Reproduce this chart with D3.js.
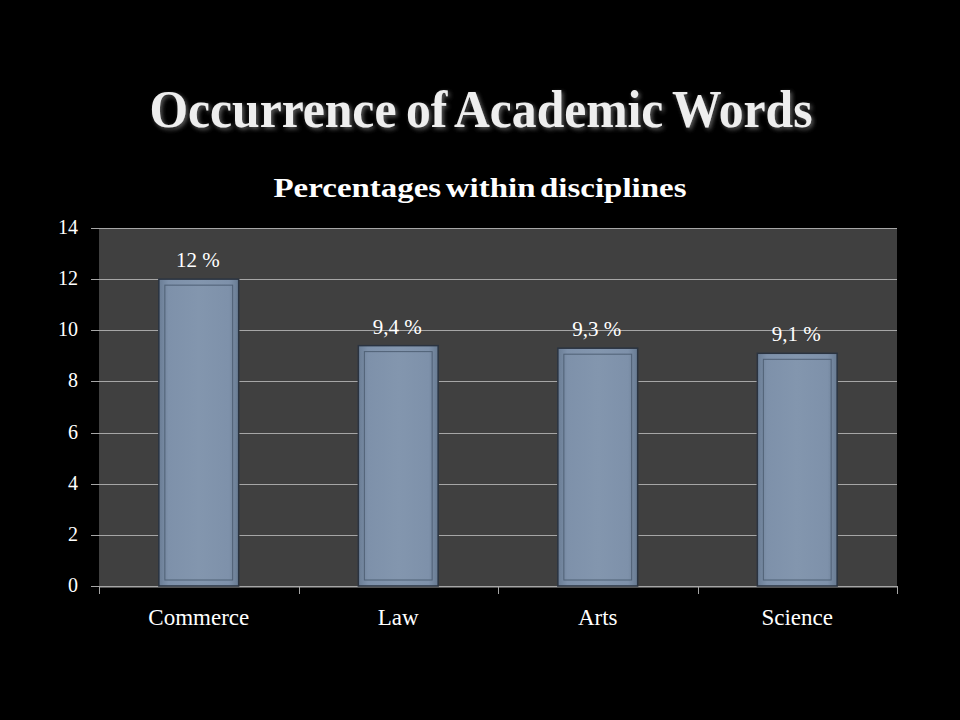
<!DOCTYPE html>
<html><head><meta charset="utf-8">
<script src="https://cdn.jsdelivr.net/npm/d3@7"></script>
<style>html,body{margin:0;padding:0;background:#000;}svg{display:block;}</style>
</head><body>
<svg id="chart" width="960" height="720"></svg>
<script>
const categories = ["Commerce", "Law", "Arts", "Science"];
const values = [12, 9.4, 9.3, 9.1];
const valueLabels = ["12 %", "9,4 %", "9,3 %", "9,1 %"];
const yTicks = [0, 2, 4, 6, 8, 10, 12, 14];

(function () {
const svg = d3.select("#chart");
const W = 960, H = 720;
svg.append("rect").attr("width", W).attr("height", H).attr("fill", "#000");

const defs = svg.append("defs");
const f = defs.append("filter").attr("id", "shadow").attr("x", "-10%").attr("y", "-20%").attr("width", "120%").attr("height", "150%");
f.append("feDropShadow").attr("dx", 2).attr("dy", 2).attr("stdDeviation", 2).attr("flood-color", "#666").attr("flood-opacity", 0.9);
const g1 = defs.append("linearGradient").attr("id", "barGrad").attr("x1", 0).attr("x2", 1).attr("y1", 0).attr("y2", 0);
g1.append("stop").attr("offset", "0%").attr("stop-color", "#6a7d95");
g1.append("stop").attr("offset", "12%").attr("stop-color", "#7e91aa");
g1.append("stop").attr("offset", "50%").attr("stop-color", "#8396ae");
g1.append("stop").attr("offset", "88%").attr("stop-color", "#7e91aa");
g1.append("stop").attr("offset", "100%").attr("stop-color", "#687b92");

// Title
svg.append("text").attr("x", 481).attr("y", 127).attr("text-anchor", "middle")
  .attr("font-family", "'Liberation Serif', serif").attr("font-weight", 700)
  .attr("font-size", 52).attr("fill", "#eeeeee").attr("filter", "url(#shadow)")
  .attr("word-spacing", -3)
  .attr("textLength", 663).attr("lengthAdjust", "spacingAndGlyphs")
  .text("Occurrence of Academic Words");

svg.append("text").attr("x", 480).attr("y", 197).attr("text-anchor", "middle")
  .attr("font-family", "'Liberation Serif', serif").attr("font-weight", 700)
  .attr("font-size", 27).attr("fill", "#ffffff").attr("word-spacing", -3)
  .attr("textLength", 413).attr("lengthAdjust", "spacingAndGlyphs")
  .text("Percentages within disciplines");

const pLeft = 99, pRight = 897, pTop = 228, pBottom = 586;
const x = d3.scaleBand().domain(categories).range([pLeft, pRight]).paddingInner(0.6).paddingOuter(0.3);
const y = d3.scaleLinear().domain([0, 14]).range([pBottom, pTop]);

svg.append("rect").attr("x", pLeft).attr("y", pTop).attr("width", pRight - pLeft).attr("height", pBottom - pTop).attr("fill", "#404040");

// gridlines
svg.append("g").selectAll("line").data(yTicks).join("line")
  .attr("x1", pLeft - 8).attr("x2", pRight).attr("y1", d => Math.round(y(d)) + 0.5).attr("y2", d => Math.round(y(d)) + 0.5)
  .attr("stroke", "#a6a6a6").attr("stroke-width", 1);

// y labels
svg.append("g").selectAll("text").data(yTicks).join("text")
  .attr("x", 78).attr("y", d => y(d) + 6).attr("text-anchor", "end")
  .attr("font-family", "'Liberation Serif', serif").attr("font-size", 20).attr("fill", "#fff")
  .text(d => d);

// x axis
const xAxis = d3.axisBottom(x).tickSize(0).tickFormat("");
const ax = svg.append("g").attr("transform", `translate(0,${Math.round(pBottom) + 0.5})`).call(xAxis);
ax.select(".domain").attr("stroke", "#a6a6a6");
const boundaries = d3.range(categories.length + 1).map(i => pLeft + i * (pRight - pLeft) / categories.length);
svg.append("g").selectAll("line").data(boundaries).join("line")
  .attr("x1", d => Math.round(d) + 0.5).attr("x2", d => Math.round(d) + 0.5).attr("y1", pBottom).attr("y2", pBottom + 8)
  .attr("stroke", "#a6a6a6");

svg.append("g").selectAll("text").data(categories).join("text")
  .attr("x", d => x(d) + x.bandwidth() / 2).attr("y", 625).attr("text-anchor", "middle")
  .attr("font-family", "'Liberation Serif', serif").attr("font-size", 23).attr("fill", "#fff")
  .text(d => d);

// bars
const bars = svg.append("g").selectAll("g").data(values).join("g");
bars.append("rect")
  .attr("x", (d, i) => x(categories[i])).attr("y", d => y(d))
  .attr("width", x.bandwidth()).attr("height", d => pBottom - y(d))
  .attr("fill", "url(#barGrad)").attr("stroke", "#2a3340").attr("stroke-width", 1.5);
bars.append("rect")
  .attr("x", (d, i) => x(categories[i]) + 6).attr("y", d => y(d) + 6)
  .attr("width", x.bandwidth() - 12).attr("height", d => pBottom - y(d) - 12)
  .attr("fill", "none").attr("stroke", "#4f6075").attr("stroke-width", 1);

// value labels
svg.append("g").selectAll("text").data(values).join("text")
  .attr("x", (d, i) => x(categories[i]) + x.bandwidth() / 2 - 1).attr("y", d => y(d) - 12)
  .attr("text-anchor", "middle")
  .attr("font-family", "'Liberation Serif', serif").attr("font-size", 21).attr("fill", "#fff")
  .text((d, i) => valueLabels[i]);
})();
</script>
</body></html>
